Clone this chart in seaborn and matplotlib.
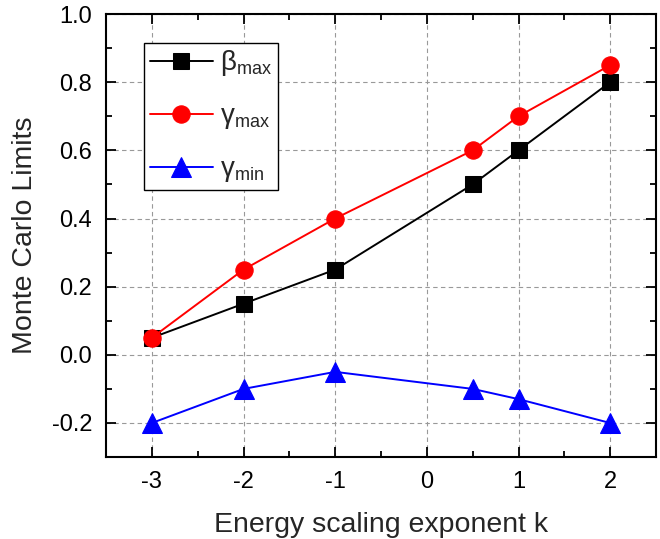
import numpy as np
import pandas as pd
import matplotlib
matplotlib.use("Agg")
import matplotlib.pyplot as plt
import matplotlib._mathtext as mathtext_internal
import seaborn as sns
from matplotlib.ticker import MultipleLocator

# values
k_values = [-3, -2, -1, 0.5, 1, 2]
beta_max = [0.05, 0.15, 0.25, 0.5, 0.6, 0.8]
gamma_max = [0.05, 0.25, 0.4, 0.6, 0.7, 0.85]
gamma_min = [-0.2, -0.1, -0.05, -0.1, -0.13, -0.2]

series_names = [r"$\mathregular{\beta_{max}}$",
                r"$\mathregular{\gamma_{max}}$",
                r"$\mathregular{\gamma_{min}}$"]

# smaller subscripts, as in the original legend
mathtext_internal.SHRINK_FACTOR = 0.65

sns.set_style("ticks")
plt.rcParams["font.family"] = ["Liberation Sans", "DejaVu Sans"]
plt.rcParams["axes.unicode_minus"] = False
plt.rcParams["xtick.direction"] = "in"
plt.rcParams["ytick.direction"] = "in"

df = pd.DataFrame({
    "k": k_values * 3,
    "value": beta_max + gamma_max + gamma_min,
    "series": np.repeat(series_names, len(k_values)),
})

fig = plt.figure(figsize=(6.6, 5.39), dpi=100)
ax = fig.add_axes([0.1606, 0.152, 0.8334, 0.822])

styles = [("black", "s", 11.5), ("red", "o", 12.5), ("blue", "^", 14)]
for name, (col, mk, ms) in zip(series_names, styles):
    sub = df[df.series == name]
    sns.lineplot(data=sub, x="k", y="value", ax=ax, color=col, marker=mk,
                 markersize=ms, markeredgecolor=col, linewidth=1.4,
                 label=name, zorder=3)

ax.set_xlim(-3.5, 2.5)
ax.set_ylim(-0.3, 1.0)
ax.xaxis.set_major_locator(MultipleLocator(1))
ax.xaxis.set_minor_locator(MultipleLocator(0.5))
ax.yaxis.set_major_locator(MultipleLocator(0.2))
ax.yaxis.set_minor_locator(MultipleLocator(0.1))
ax.yaxis.set_major_formatter(matplotlib.ticker.FormatStrFormatter("%.1f"))
ax.tick_params(which="both", top=True, right=True, labelsize=17, width=1.3,
               colors="black")
ax.tick_params(which="major", length=7, pad=10)
ax.tick_params(which="minor", length=4)
for sp in ax.spines.values():
    sp.set_linewidth(1.5)
    sp.set_color("black")

ax.grid(True, which="major", color="#999999", linestyle=(0, (4, 3)),
        linewidth=0.8)

ax.set_xlabel("Energy scaling exponent k", fontsize=20.5, labelpad=14)
ax.set_ylabel("Monte Carlo Limits", fontsize=20.5, labelpad=10)

leg = ax.legend(loc="upper left", bbox_to_anchor=(0.069, 0.935),
                borderaxespad=0, fontsize=20, handlelength=2.3,
                labelspacing=0.9, borderpad=0.2, fancybox=False,
                frameon=True, edgecolor="black", handletextpad=0.25)
leg.get_frame().set_linewidth(1.0)
leg.get_frame().set_alpha(1)

plt.savefig("out.png", dpi=100)
